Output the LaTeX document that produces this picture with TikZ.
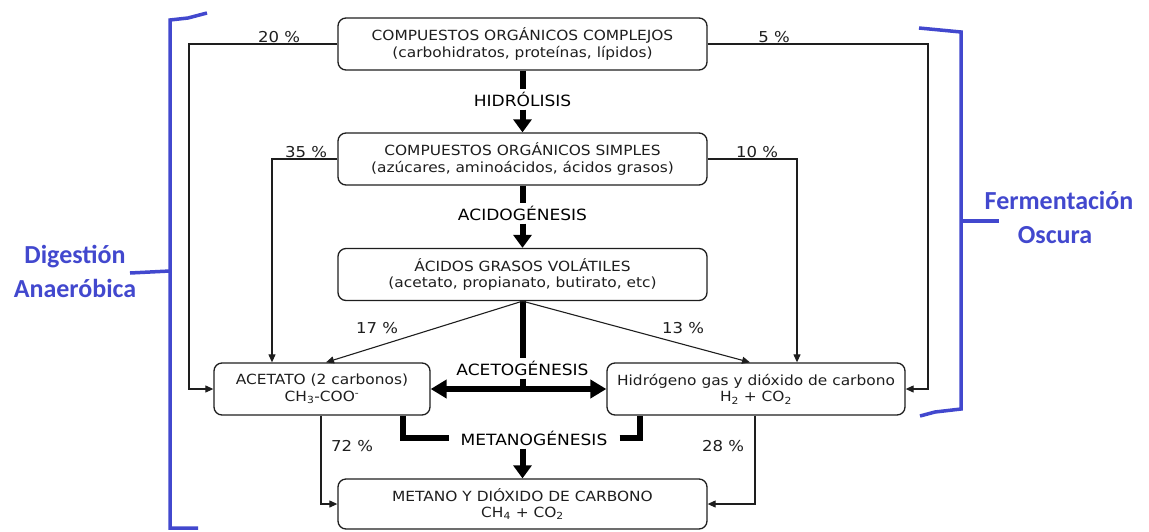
\documentclass[tikz,border=0pt]{standalone}
\usepackage{fontspec}
\setmainfont{DejaVu Sans}[FakeStretch=1.1]
\newfontfamily\carl{Carlito}
\usetikzlibrary{arrows.meta,calc}
\definecolor{bracketblue}{RGB}{66,72,206}
\definecolor{ink}{RGB}{30,30,30}
\begin{document}
\begin{tikzpicture}[x=1pt,y=-1pt,
  box/.style={draw=ink, line width=1.3pt, rounded corners=8pt, align=center,
    inner sep=0pt, text=ink, font=\fontsize{14}{16.5}\selectfont},
  wide/.style={minimum width=369pt, minimum height=52pt},
  pct/.style={text=ink, font=\fontsize{15}{18}\selectfont, inner sep=0pt},
  proc/.style={text=black, font=\fontsize{15.5}{18}\selectfont, inner sep=3pt},
  flow/.style={draw=ink, line width=1.1pt, -{Triangle[width=7pt,length=8pt]}},
  thickline/.style={draw=black, line width=6pt},
  bigarrow/.style={draw=black, line width=6pt, -{Triangle[width=18pt,length=13pt]}},
  dblarrow/.style={draw=black, line width=6pt, {Triangle[width=18pt,length=16pt]}-{Triangle[width=18pt,length=16pt]}},
  brk/.style={draw=bracketblue, line width=3.5pt},
  blab/.style={text=bracketblue, font=\carl\bfseries\fontsize{26}{30}\selectfont, inner sep=0pt, anchor=base}
]
\useasboundingbox (0,0) rectangle (1149,531);

% boxes
\node[box,wide] (b1) at (522.5,44) {COMPUESTOS ORGÁNICOS COMPLEJOS\\(carbohidratos, proteínas, lípidos)};
\node[box,wide] (b2) at (522.5,159) {COMPUESTOS ORGÁNICOS SIMPLES\\(azúcares, aminoácidos, ácidos grasos)};
\node[box,wide] (b3) at (522.5,274.5) {ÁCIDOS GRASOS VOLÁTILES\\(acetato, propianato, butirato, etc)};
\node[box,minimum width=216pt,minimum height=52pt] (acet) at (322,389) {ACETATO (2 carbonos)\\CH\textsubscript{3}-COO\textsuperscript{-}};
\node[box,minimum width=298pt,minimum height=52pt] (h2) at (756,389) {Hidrógeno gas y dióxido de carbono\\H\textsubscript{2} + CO\textsubscript{2}};
\node[box,minimum width=369pt,minimum height=50pt] (b5) at (522.5,504) {METANO Y DIÓXIDO DE CARBONO\\CH\textsubscript{4} + CO\textsubscript{2}};

% process labels
\node[proc] (hid) at (522.5,99) {HIDRÓLISIS};
\node[proc] (acid) at (522.5,213) {ACIDOGÉNESIS};
\node[proc] (aceto) at (522.5,368) {ACETOGÉNESIS};
\node[proc,inner xsep=12pt] (met) at (534,438) {METANOGÉNESIS};

% thick process arrows
\draw[thickline] (b1.south) -- (hid.north);
\draw[bigarrow] (hid.south) -- (b2.north);
\draw[thickline] (b2.south) -- (acid.north);
\draw[bigarrow] (acid.south) -- (b3.north);
\draw[thickline] (b3.south) -- (aceto.north);
\coordinate (jn) at (aceto.south |- acet.east);
\draw[thickline] (aceto.south) -- (jn);
\draw[dblarrow] (acet.east) -- (h2.west);
\draw[thickline] ($(acet.south)+(81,0)$) |- (met.west);
\draw[thickline] (met.east) -| ($(h2.south)+(-116,0)$);
\draw[bigarrow] (met.south -| b5.north) -- (b5.north);

% thin flows
\coordinate (k20) at (189,44);
\coordinate (k5) at (928,44);
\draw[flow] (b1.west) -- (k20) |- (acet.west);
\draw[flow] (b1.east) -- (k5) |- (h2.east);
\draw[flow] (b2.west) -| ($(acet.north)+(-50,0)$);
\draw[flow] (b2.east) -| ($(h2.north)+(41,0)$);
\draw[flow] (b3.south) -- ($(acet.north)+(4,0)$);
\draw[flow] (b3.south) -- ($(h2.north)+(-6,0)$);
\draw[flow] ($(acet.south)+(-1,0)$) |- (b5.west);
\draw[flow] ($(h2.south)+(-1,0)$) |- (b5.east);

% percentages
\node[pct] (p20) at (279,37) {20 \%};
\node[pct] (p5) at (774,37) {5 \%};
\node[pct] (p35) at (306,152) {35 \%};
\node[pct] (p10) at (757,152) {10 \%};
\node[pct] (p17) at (377,328) {17 \%};
\node[pct] (p13) at (683,328) {13 \%};
\node[pct] (p72) at (352,446) {72 \%};
\node[pct] (p28) at (723,446) {28 \%};

% blue brackets
\draw[brk] (207,13) -- (188,18) -- (170,20) -- (170,528) -- (198,528);
\draw[brk] (130,273) -- (170,271);
\draw[brk] (919,28) -- (961,32) -- (961,409) -- (935,412) -- (920,416);
\draw[brk] (961,221) -- (999,221);

\node[blab] (dig) at (75,263) {Digestión};
\node[blab] (ana) at (75,297) {Anaeróbica};
\node[blab] (fer) at (1059,209) {Fermentación};
\node[blab] (osc) at (1055,243) {Oscura};
\end{tikzpicture}
\end{document}
